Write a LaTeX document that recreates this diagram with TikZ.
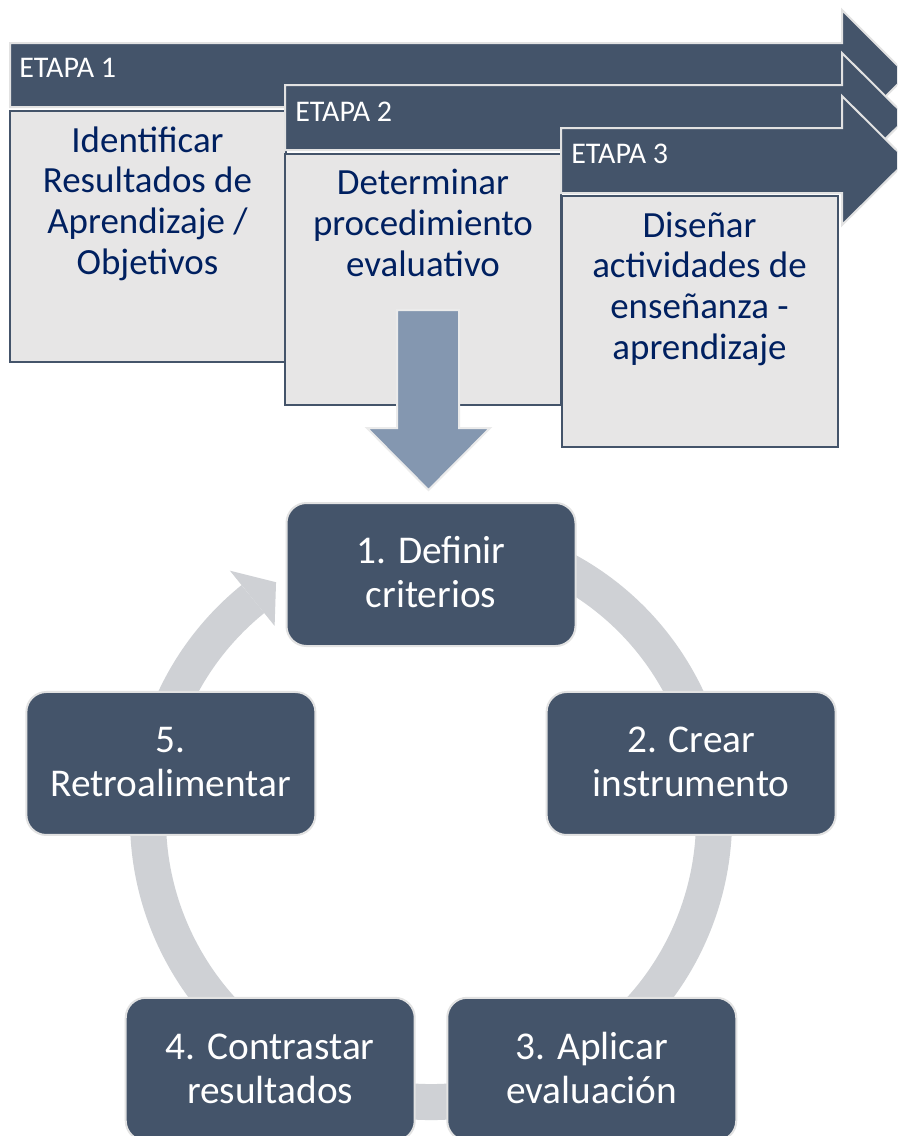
\documentclass[tikz,border=0pt]{standalone}
\usepackage{fontspec}
\setmainfont{Carlito}
\usetikzlibrary{calc}
\definecolor{slate}{HTML}{44546A}
\definecolor{boxfill}{HTML}{E7E6E6}
\definecolor{navy}{HTML}{002060}
\definecolor{downblue}{HTML}{8497B0}
\definecolor{ringgray}{RGB}{207,209,213}
\definecolor{edgegray}{HTML}{E2E2E2}
\begin{document}
\begin{tikzpicture}[x=0.75pt,y=0.75pt,
  bandarrow/.style={fill=slate, draw=edgegray, line width=1.5pt, line join=miter},
  stagebox/.style={rectangle, draw=slate, fill=boxfill, line width=1.5pt, inner sep=0pt, minimum width=207pt, minimum height=188.25pt},
  stagetext/.style={text=navy, font=\fontsize{27.7}{30.5}\selectfont, align=center, inner sep=0pt, anchor=base},
  etapa/.style={text=white, font=\fontsize{22.5}{26}\selectfont, inner sep=0pt, anchor=base west},
  downarrow/.style={fill=downblue, draw=white!92!black, line width=1.5pt, line join=miter},
  cyc/.style={rectangle, rounded corners=15pt, fill=slate, draw=edgegray, line width=1.5pt, minimum width=216.75pt, minimum height=107.25pt, inner sep=0pt},
  cyctext/.style={text=white, font=\fontsize{29.5}{33}\selectfont, align=center, inner sep=0pt, anchor=base},
  ring/.style={draw=ringgray, line width=27pt}
]
\clip (0,0) rectangle (897,-1136);
\fill[white] (0,0) rectangle (897,-1136);

% stage 1
\draw[bandarrow] (10,-43) -- (842,-43) -- (842,-10) -- (907,-75) -- (842,-140) -- (842,-107) -- (10,-107) -- cycle;
\node[etapa] (e1) at (19,-77) {ETAPA 1};
\node[stagebox] (b1) at (147.5,-236) {};
\node[stagetext] (t1) at ($(b1.north)+(0,-164.5)$) {Identificar\\Resultados de\\Aprendizaje /\\Objetivos};

% stage 2
\draw[bandarrow] (285,-85) -- (842,-85) -- (842,-53) -- (907,-117.5) -- (842,-182) -- (842,-150) -- (285,-150) -- cycle;
\node[etapa] (e2) at (295,-121) {ETAPA 2};
\node[stagebox] (b2) at (423,-279) {};
\node[stagetext] (t2) at ($(b2.north)+(0,-123.5)$) {Determinar\\procedimiento\\evaluativo};

% stage 3
\draw[bandarrow] (561,-128) -- (842,-128) -- (842,-96) -- (907,-160.5) -- (842,-225) -- (842,-193) -- (561,-193) -- cycle;
\node[etapa] (e3) at (571,-163) {ETAPA 3};
\node[stagebox] (b3) at (699.5,-321) {};
\node[stagetext] (t3) at ($(b3.north)+(0,-164.5)$) {Diseñar\\actividades de\\enseñanza -\\aprendizaje};

% down arrow
\draw[downarrow] (397,-310) -- (459,-310) -- (459,-428) -- (490,-428) -- (428.5,-490) -- (367,-428) -- (397,-428) -- cycle;

% cycle
\coordinate (P) at (431,-848);
\coordinate (O) at (431,-819);
\draw[ring] ($(O)+(118:283)$) arc[start angle=118, end angle=-231, radius=283];
\fill[ringgray] ($(O)+(129:319.5)$) -- ($(O)+(123.2:283)$) -- ($(O)+(129:248.5)$) -- cycle;

\node[cyc] (n1) at ($(P)+(90:273.5)$) {};
\node[cyc] (n2) at ($(P)+(18:273.5)$) {};
\node[cyc] (n3) at ($(P)+(-54:273.5)$) {};
\node[cyc] (n4) at ($(P)+(-126:273.5)$) {};
\node[cyc] (n5) at ($(P)+(162:273.5)$) {};
\node[cyctext] (l1) at ($(n1.center)+(0,-33)$) {1. Definir\\criterios};
\node[cyctext] (l2) at ($(n2.center)+(0,-33)$) {2. Crear\\instrumento};
\node[cyctext] (l3) at ($(n3.center)+(0,-34)$) {3. Aplicar\\evaluación};
\node[cyctext] (l4) at ($(n4.center)+(0,-34)$) {4. Contrastar\\resultados};
\node[cyctext] (l5) at ($(n5.center)+(0,-33)$) {5.\\Retroalimentar};
\end{tikzpicture}
\end{document}
